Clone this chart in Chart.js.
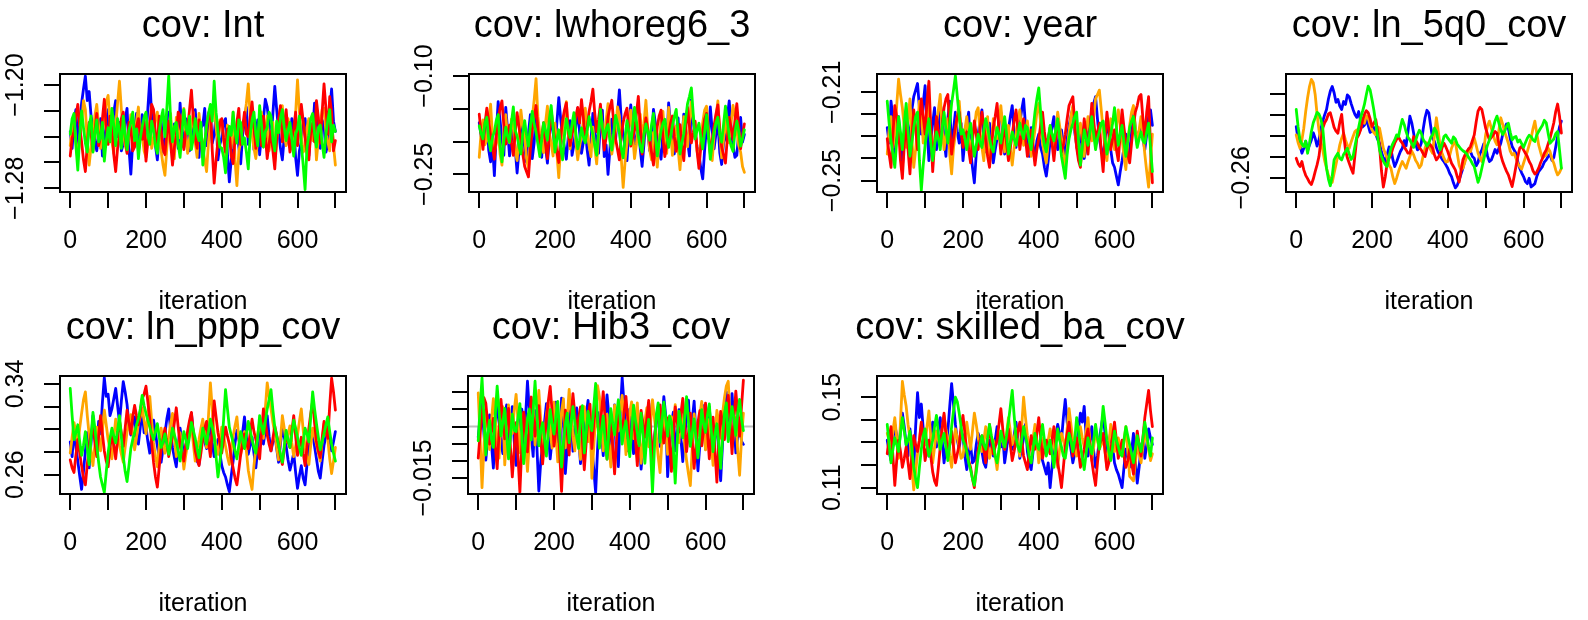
<!DOCTYPE html>
<html>
<head>
<meta charset="utf-8">
<script src="https://cdn.jsdelivr.net/npm/chart.js@4.4.0/dist/chart.umd.min.js"></script>
<style>
  html, body { margin: 0; padding: 0; background: #fff; width: 1588px; height: 620px; overflow: hidden; }
  canvas { position: absolute; }
</style>
</head>
<body>
<script>
// Iterations (one point every 5 draws) and x axis ticks
const iterations = [0,5,10,15,20,25,30,35,40,45,50,55,60,65,70,75,80,85,90,95,
  100,105,110,115,120,125,130,135,140,145,150,155,160,165,170,175,180,185,190,195,
  200,205,210,215,220,225,230,235,240,245,250,255,260,265,270,275,280,285,290,295,
  300,305,310,315,320,325,330,335,340,345,350,355,360,365,370,375,380,385,390,395,
  400,405,410,415,420,425,430,435,440,445,450,455,460,465,470,475,480,485,490,495,
  500,505,510,515,520,525,530,535,540,545,550,555,560,565,570,575,580,585,590,595,
  600,605,610,615,620,625,630,635,640,645,650,655,660,665,670,675,680,685,690,695,700];
const xTicks = [0,100,200,300,400,500,600,700];
const xLabelled = [0,200,400,600];

// cov: Int
const intBlue = [-1.236,-1.249,-1.228,-1.219,-1.247,-1.231,-1.214,-1.203,-1.193,-1.212,-1.205,-1.224,-1.232,-1.243,-1.251,-1.237,-1.226,-1.255,-1.244,-1.231,
  -1.219,-1.242,-1.238,-1.221,-1.212,-1.240,-1.229,-1.251,-1.246,-1.227,-1.218,-1.249,-1.269,-1.244,-1.235,-1.222,-1.252,-1.238,-1.223,-1.247,
  -1.241,-1.218,-1.195,-1.224,-1.233,-1.247,-1.258,-1.239,-1.227,-1.252,-1.245,-1.229,-1.221,-1.242,-1.253,-1.230,-1.236,-1.249,-1.214,-1.237,
  -1.248,-1.226,-1.229,-1.251,-1.243,-1.225,-1.219,-1.240,-1.256,-1.233,-1.231,-1.218,-1.247,-1.236,-1.222,-1.245,-1.238,-1.224,-1.258,-1.246,
  -1.241,-1.229,-1.226,-1.253,-1.275,-1.258,-1.249,-1.236,-1.232,-1.248,-1.261,-1.239,-1.228,-1.217,-1.246,-1.233,-1.222,-1.250,-1.239,-1.227,
  -1.254,-1.238,-1.226,-1.211,-1.217,-1.230,-1.243,-1.222,-1.201,-1.219,-1.235,-1.249,-1.258,-1.240,-1.229,-1.244,-1.248,-1.226,-1.232,-1.256,
  -1.270,-1.251,-1.244,-1.229,-1.226,-1.246,-1.255,-1.234,-1.237,-1.214,-1.219,-1.242,-1.249,-1.227,-1.231,-1.252,-1.246,-1.221,-1.203,-1.228,-1.236];
const intOrange = [-1.247,-1.233,-1.226,-1.244,-1.258,-1.241,-1.231,-1.212,-1.219,-1.243,-1.262,-1.248,-1.238,-1.224,-1.215,-1.232,-1.249,-1.236,-1.227,-1.213,
  -1.208,-1.229,-1.244,-1.253,-1.231,-1.214,-1.197,-1.219,-1.236,-1.247,-1.252,-1.238,-1.223,-1.234,-1.245,-1.228,-1.217,-1.242,-1.239,-1.251,
  -1.256,-1.237,-1.228,-1.249,-1.242,-1.226,-1.221,-1.238,-1.251,-1.262,-1.270,-1.249,-1.234,-1.222,-1.247,-1.257,-1.225,-1.236,-1.241,-1.228,
  -1.218,-1.239,-1.253,-1.241,-1.232,-1.221,-1.245,-1.256,-1.222,-1.236,-1.249,-1.258,-1.267,-1.244,-1.231,-1.219,-1.214,-1.233,-1.246,-1.227,
  -1.229,-1.242,-1.255,-1.231,-1.237,-1.249,-1.221,-1.258,-1.278,-1.252,-1.243,-1.232,-1.226,-1.214,-1.199,-1.224,-1.238,-1.249,-1.257,-1.241,
  -1.233,-1.221,-1.248,-1.236,-1.224,-1.251,-1.241,-1.229,-1.259,-1.244,-1.230,-1.217,-1.216,-1.238,-1.247,-1.226,-1.235,-1.249,-1.252,-1.222,
  -1.196,-1.221,-1.238,-1.252,-1.249,-1.233,-1.226,-1.241,-1.243,-1.229,-1.258,-1.242,-1.231,-1.219,-1.218,-1.236,-1.244,-1.251,-1.228,-1.247,-1.262];
const intRed = [-1.255,-1.241,-1.236,-1.224,-1.215,-1.232,-1.244,-1.258,-1.267,-1.246,-1.229,-1.238,-1.251,-1.236,-1.222,-1.247,-1.240,-1.226,-1.211,-1.233,
  -1.246,-1.224,-1.232,-1.254,-1.267,-1.249,-1.238,-1.226,-1.221,-1.240,-1.253,-1.229,-1.234,-1.251,-1.248,-1.232,-1.226,-1.239,-1.242,-1.228,
  -1.259,-1.243,-1.231,-1.215,-1.219,-1.238,-1.247,-1.224,-1.236,-1.249,-1.254,-1.237,-1.228,-1.245,-1.262,-1.248,-1.239,-1.221,-1.224,-1.241,
  -1.250,-1.236,-1.233,-1.219,-1.204,-1.226,-1.241,-1.249,-1.227,-1.240,-1.256,-1.244,-1.235,-1.222,-1.218,-1.251,-1.276,-1.258,-1.243,-1.229,
  -1.226,-1.241,-1.252,-1.234,-1.237,-1.255,-1.261,-1.242,-1.229,-1.218,-1.246,-1.233,-1.221,-1.238,-1.240,-1.225,-1.213,-1.231,-1.249,-1.236,
  -1.231,-1.247,-1.224,-1.239,-1.257,-1.245,-1.236,-1.251,-1.265,-1.242,-1.227,-1.216,-1.244,-1.232,-1.219,-1.237,-1.252,-1.241,-1.234,-1.221,
  -1.247,-1.231,-1.215,-1.228,-1.241,-1.253,-1.258,-1.236,-1.229,-1.244,-1.212,-1.225,-1.245,-1.221,-1.199,-1.218,-1.238,-1.209,-1.221,-1.251,-1.243];
const intGreen = [-1.238,-1.226,-1.222,-1.247,-1.266,-1.239,-1.220,-1.233,-1.245,-1.252,-1.231,-1.224,-1.252,-1.238,-1.227,-1.244,-1.241,-1.229,-1.259,-1.243,
  -1.233,-1.244,-1.218,-1.231,-1.247,-1.226,-1.236,-1.249,-1.224,-1.238,-1.250,-1.235,-1.229,-1.221,-1.243,-1.234,-1.257,-1.241,-1.232,-1.225,
  -1.221,-1.239,-1.246,-1.228,-1.235,-1.247,-1.253,-1.236,-1.226,-1.219,-1.240,-1.218,-1.193,-1.227,-1.244,-1.232,-1.229,-1.246,-1.256,-1.237,
  -1.219,-1.233,-1.238,-1.224,-1.250,-1.241,-1.226,-1.238,-1.243,-1.229,-1.262,-1.245,-1.231,-1.222,-1.215,-1.228,-1.197,-1.221,-1.236,-1.248,
  -1.249,-1.256,-1.268,-1.244,-1.232,-1.239,-1.221,-1.236,-1.245,-1.227,-1.229,-1.246,-1.241,-1.252,-1.265,-1.239,-1.227,-1.221,-1.238,-1.247,
  -1.216,-1.231,-1.248,-1.236,-1.233,-1.221,-1.224,-1.242,-1.251,-1.228,-1.237,-1.226,-1.219,-1.233,-1.243,-1.235,-1.229,-1.241,-1.255,-1.238,
  -1.234,-1.224,-1.246,-1.262,-1.281,-1.248,-1.239,-1.226,-1.222,-1.237,-1.248,-1.233,-1.231,-1.245,-1.256,-1.238,-1.227,-1.219,-1.244,-1.231,-1.236];
const intTicks = [-1.28,-1.26,-1.24,-1.22,-1.20];
const intLabelled = [-1.20,-1.28];

// cov: lwhoreg6_3
const lwBlue = [-0.171,-0.192,-0.205,-0.176,-0.158,-0.213,-0.231,-0.204,-0.252,-0.187,-0.139,-0.168,-0.196,-0.221,-0.148,-0.183,-0.222,-0.199,-0.178,-0.211,
  -0.248,-0.214,-0.163,-0.186,-0.209,-0.231,-0.187,-0.159,-0.226,-0.202,-0.153,-0.179,-0.198,-0.224,-0.175,-0.207,-0.233,-0.196,-0.161,-0.184,
  -0.214,-0.171,-0.133,-0.165,-0.192,-0.209,-0.227,-0.194,-0.168,-0.221,-0.205,-0.177,-0.149,-0.186,-0.218,-0.201,-0.182,-0.213,-0.236,-0.198,
  -0.157,-0.184,-0.201,-0.218,-0.174,-0.152,-0.223,-0.205,-0.250,-0.212,-0.166,-0.188,-0.197,-0.158,-0.121,-0.167,-0.189,-0.206,-0.229,-0.181,
  -0.144,-0.179,-0.208,-0.192,-0.176,-0.211,-0.238,-0.203,-0.162,-0.185,-0.214,-0.197,-0.151,-0.172,-0.193,-0.216,-0.227,-0.188,-0.172,-0.206,
  -0.141,-0.176,-0.205,-0.219,-0.183,-0.164,-0.231,-0.198,-0.158,-0.181,-0.199,-0.222,-0.136,-0.171,-0.187,-0.208,-0.219,-0.241,-0.257,-0.213,
  -0.178,-0.195,-0.147,-0.183,-0.211,-0.188,-0.169,-0.217,-0.235,-0.202,-0.194,-0.162,-0.138,-0.179,-0.206,-0.224,-0.221,-0.187,-0.163,-0.201,-0.189];
const lwOrange = [-0.224,-0.186,-0.167,-0.205,-0.198,-0.171,-0.143,-0.192,-0.215,-0.203,-0.181,-0.219,-0.236,-0.184,-0.159,-0.197,-0.202,-0.166,-0.177,-0.214,
  -0.229,-0.191,-0.152,-0.178,-0.193,-0.226,-0.241,-0.198,-0.164,-0.137,-0.104,-0.162,-0.188,-0.205,-0.217,-0.172,-0.146,-0.187,-0.203,-0.222,
  -0.172,-0.218,-0.255,-0.207,-0.184,-0.161,-0.139,-0.189,-0.211,-0.182,-0.165,-0.201,-0.228,-0.207,-0.191,-0.168,-0.149,-0.185,-0.206,-0.223,
  -0.178,-0.209,-0.234,-0.192,-0.156,-0.174,-0.197,-0.168,-0.142,-0.188,-0.219,-0.201,-0.185,-0.147,-0.161,-0.226,-0.270,-0.231,-0.203,-0.176,
  -0.152,-0.189,-0.226,-0.204,-0.174,-0.158,-0.199,-0.172,-0.137,-0.181,-0.213,-0.228,-0.186,-0.209,-0.239,-0.197,-0.168,-0.154,-0.195,-0.218,
  -0.148,-0.183,-0.221,-0.196,-0.177,-0.212,-0.243,-0.201,-0.162,-0.189,-0.208,-0.173,-0.139,-0.166,-0.186,-0.214,-0.232,-0.194,-0.171,-0.152,
  -0.146,-0.181,-0.214,-0.229,-0.191,-0.163,-0.138,-0.187,-0.225,-0.197,-0.168,-0.189,-0.202,-0.171,-0.145,-0.162,-0.183,-0.206,-0.216,-0.238,-0.247];
const lwRed = [-0.158,-0.187,-0.212,-0.174,-0.149,-0.168,-0.191,-0.209,-0.227,-0.192,-0.166,-0.149,-0.138,-0.176,-0.204,-0.188,-0.175,-0.201,-0.221,-0.186,
  -0.156,-0.178,-0.197,-0.219,-0.238,-0.246,-0.254,-0.211,-0.182,-0.163,-0.145,-0.181,-0.209,-0.192,-0.171,-0.204,-0.226,-0.188,-0.153,-0.177,
  -0.199,-0.216,-0.232,-0.193,-0.168,-0.152,-0.141,-0.183,-0.206,-0.188,-0.179,-0.161,-0.148,-0.172,-0.136,-0.164,-0.197,-0.178,-0.154,-0.139,
  -0.120,-0.157,-0.185,-0.166,-0.143,-0.181,-0.213,-0.194,-0.162,-0.148,-0.137,-0.171,-0.196,-0.212,-0.228,-0.191,-0.171,-0.158,-0.149,-0.183,
  -0.207,-0.194,-0.183,-0.158,-0.131,-0.176,-0.219,-0.191,-0.164,-0.182,-0.198,-0.217,-0.236,-0.203,-0.177,-0.161,-0.152,-0.194,-0.223,-0.205,
  -0.189,-0.172,-0.161,-0.193,-0.215,-0.196,-0.174,-0.208,-0.229,-0.183,-0.148,-0.176,-0.202,-0.187,-0.169,-0.214,-0.241,-0.208,-0.185,-0.166,
  -0.157,-0.189,-0.219,-0.198,-0.176,-0.158,-0.144,-0.182,-0.208,-0.221,-0.233,-0.194,-0.163,-0.179,-0.197,-0.168,-0.142,-0.176,-0.211,-0.191,-0.173];
const lwGreen = [-0.176,-0.188,-0.196,-0.172,-0.163,-0.197,-0.214,-0.193,-0.185,-0.168,-0.159,-0.206,-0.231,-0.199,-0.178,-0.192,-0.201,-0.171,-0.147,-0.183,
  -0.192,-0.208,-0.219,-0.187,-0.168,-0.191,-0.207,-0.176,-0.154,-0.173,-0.186,-0.204,-0.223,-0.195,-0.171,-0.183,-0.198,-0.166,-0.145,-0.179,
  -0.216,-0.197,-0.182,-0.209,-0.228,-0.192,-0.165,-0.181,-0.194,-0.173,-0.156,-0.187,-0.211,-0.198,-0.179,-0.193,-0.202,-0.183,-0.162,-0.177,
  -0.189,-0.206,-0.221,-0.184,-0.151,-0.178,-0.195,-0.181,-0.174,-0.199,-0.213,-0.186,-0.160,-0.172,-0.187,-0.211,-0.225,-0.194,-0.168,-0.185,
  -0.204,-0.176,-0.148,-0.169,-0.192,-0.207,-0.216,-0.189,-0.173,-0.186,-0.198,-0.174,-0.157,-0.193,-0.222,-0.201,-0.184,-0.172,-0.166,-0.191,
  -0.209,-0.193,-0.176,-0.162,-0.151,-0.187,-0.219,-0.202,-0.188,-0.165,-0.142,-0.131,-0.118,-0.158,-0.196,-0.183,-0.172,-0.193,-0.211,-0.186,
  -0.159,-0.191,-0.227,-0.204,-0.185,-0.171,-0.163,-0.188,-0.201,-0.174,-0.146,-0.168,-0.193,-0.207,-0.215,-0.186,-0.169,-0.184,-0.207,-0.196,-0.182];
const lwTicks = [-0.25,-0.20,-0.15,-0.10];
const lwLabelled = [-0.10,-0.25];

// cov: year
const yrBlue = [-0.226,-0.233,-0.214,-0.222,-0.238,-0.229,-0.221,-0.235,-0.244,-0.231,-0.219,-0.226,-0.233,-0.218,-0.212,-0.209,-0.206,-0.217,-0.229,-0.215,
  -0.207,-0.226,-0.241,-0.232,-0.224,-0.217,-0.236,-0.228,-0.215,-0.221,-0.231,-0.239,-0.222,-0.214,-0.238,-0.227,-0.219,-0.228,-0.233,-0.224,
  -0.241,-0.232,-0.225,-0.219,-0.236,-0.244,-0.251,-0.238,-0.229,-0.223,-0.218,-0.231,-0.237,-0.229,-0.224,-0.235,-0.242,-0.236,-0.231,-0.222,
  -0.219,-0.229,-0.238,-0.231,-0.227,-0.221,-0.216,-0.228,-0.235,-0.226,-0.224,-0.218,-0.213,-0.225,-0.233,-0.239,-0.226,-0.234,-0.241,-0.232,
  -0.229,-0.235,-0.238,-0.244,-0.248,-0.241,-0.232,-0.226,-0.221,-0.229,-0.236,-0.231,-0.227,-0.234,-0.239,-0.231,-0.225,-0.221,-0.217,-0.228,
  -0.234,-0.239,-0.226,-0.233,-0.240,-0.235,-0.229,-0.224,-0.219,-0.215,-0.212,-0.222,-0.231,-0.236,-0.239,-0.231,-0.224,-0.229,-0.236,-0.242,
  -0.244,-0.248,-0.252,-0.246,-0.241,-0.235,-0.229,-0.233,-0.238,-0.227,-0.218,-0.226,-0.232,-0.228,-0.224,-0.231,-0.236,-0.229,-0.221,-0.218,-0.225];
const yrOrange = [-0.238,-0.227,-0.221,-0.235,-0.229,-0.216,-0.204,-0.211,-0.217,-0.226,-0.235,-0.222,-0.213,-0.231,-0.244,-0.236,-0.226,-0.214,-0.218,-0.233,
  -0.232,-0.224,-0.215,-0.228,-0.239,-0.233,-0.224,-0.218,-0.211,-0.227,-0.236,-0.229,-0.222,-0.238,-0.247,-0.235,-0.229,-0.221,-0.214,-0.226,
  -0.233,-0.227,-0.221,-0.231,-0.238,-0.229,-0.226,-0.219,-0.217,-0.228,-0.235,-0.241,-0.228,-0.221,-0.241,-0.234,-0.222,-0.226,-0.231,-0.224,
  -0.216,-0.226,-0.237,-0.231,-0.225,-0.236,-0.243,-0.235,-0.229,-0.222,-0.218,-0.227,-0.234,-0.228,-0.223,-0.231,-0.239,-0.233,-0.227,-0.219,
  -0.215,-0.224,-0.233,-0.238,-0.242,-0.233,-0.226,-0.231,-0.236,-0.227,-0.219,-0.225,-0.231,-0.238,-0.244,-0.236,-0.228,-0.221,-0.216,-0.226,
  -0.235,-0.229,-0.224,-0.232,-0.239,-0.228,-0.221,-0.227,-0.232,-0.221,-0.213,-0.211,-0.209,-0.218,-0.227,-0.236,-0.241,-0.231,-0.222,-0.229,
  -0.236,-0.227,-0.218,-0.224,-0.231,-0.239,-0.245,-0.233,-0.225,-0.219,-0.216,-0.226,-0.234,-0.227,-0.221,-0.229,-0.238,-0.246,-0.253,-0.241,-0.229];
const yrRed = [-0.231,-0.238,-0.244,-0.229,-0.216,-0.221,-0.227,-0.241,-0.249,-0.234,-0.222,-0.236,-0.247,-0.231,-0.218,-0.226,-0.236,-0.224,-0.213,-0.221,
  -0.229,-0.214,-0.205,-0.226,-0.246,-0.233,-0.221,-0.228,-0.234,-0.224,-0.217,-0.213,-0.211,-0.226,-0.238,-0.231,-0.226,-0.221,-0.219,-0.228,
  -0.235,-0.231,-0.228,-0.236,-0.242,-0.232,-0.223,-0.229,-0.236,-0.227,-0.219,-0.225,-0.232,-0.239,-0.244,-0.235,-0.226,-0.221,-0.215,-0.227,
  -0.238,-0.231,-0.224,-0.233,-0.241,-0.235,-0.229,-0.223,-0.218,-0.227,-0.236,-0.229,-0.222,-0.231,-0.239,-0.233,-0.227,-0.235,-0.243,-0.236,
  -0.231,-0.225,-0.219,-0.228,-0.234,-0.231,-0.226,-0.233,-0.241,-0.232,-0.223,-0.229,-0.237,-0.234,-0.229,-0.222,-0.216,-0.214,-0.212,-0.224,
  -0.235,-0.241,-0.244,-0.233,-0.222,-0.229,-0.238,-0.227,-0.215,-0.223,-0.231,-0.228,-0.224,-0.237,-0.246,-0.231,-0.219,-0.227,-0.236,-0.231,
  -0.227,-0.236,-0.241,-0.229,-0.218,-0.226,-0.233,-0.238,-0.242,-0.233,-0.225,-0.219,-0.216,-0.212,-0.211,-0.222,-0.231,-0.219,-0.212,-0.234,-0.251];
const yrGreen = [-0.214,-0.224,-0.232,-0.238,-0.244,-0.232,-0.221,-0.228,-0.236,-0.224,-0.215,-0.227,-0.239,-0.233,-0.226,-0.221,-0.219,-0.241,-0.2545,-0.243,
  -0.234,-0.227,-0.222,-0.233,-0.241,-0.234,-0.228,-0.231,-0.236,-0.226,-0.219,-0.227,-0.233,-0.224,-0.215,-0.209,-0.2025,-0.212,-0.221,-0.229,
  -0.227,-0.231,-0.236,-0.229,-0.224,-0.232,-0.239,-0.234,-0.229,-0.233,-0.235,-0.227,-0.222,-0.226,-0.231,-0.235,-0.237,-0.231,-0.226,-0.229,
  -0.233,-0.227,-0.221,-0.229,-0.238,-0.233,-0.228,-0.231,-0.234,-0.229,-0.224,-0.228,-0.231,-0.225,-0.226,-0.232,-0.236,-0.227,-0.219,-0.213,
  -0.208,-0.219,-0.229,-0.234,-0.237,-0.231,-0.225,-0.229,-0.232,-0.227,-0.222,-0.231,-0.239,-0.244,-0.249,-0.238,-0.231,-0.227,-0.224,-0.221,
  -0.219,-0.232,-0.243,-0.235,-0.227,-0.231,-0.234,-0.228,-0.221,-0.229,-0.236,-0.231,-0.228,-0.224,-0.223,-0.231,-0.238,-0.233,-0.229,-0.224,
  -0.217,-0.226,-0.234,-0.229,-0.225,-0.233,-0.239,-0.232,-0.226,-0.223,-0.221,-0.229,-0.235,-0.231,-0.228,-0.232,-0.233,-0.228,-0.224,-0.235,-0.246];
const yrTicks = [-0.25,-0.24,-0.23,-0.22,-0.21];
const yrLabelled = [-0.21,-0.25];

// cov: ln_5q0_cov
const q5Blue = [-0.2477,-0.2508,-0.2523,-0.2541,-0.2529,-0.2512,-0.2535,-0.2521,-0.2509,-0.2492,-0.2505,-0.2524,-0.2509,-0.2483,-0.2464,-0.2449,-0.2436,-0.2411,-0.2392,-0.2381,
  -0.2396,-0.2419,-0.2412,-0.2428,-0.2436,-0.2417,-0.2424,-0.2401,-0.2406,-0.2422,-0.2436,-0.2448,-0.2455,-0.2441,-0.2464,-0.2478,-0.2474,-0.2461,-0.2474,-0.2491,
  -0.2487,-0.2479,-0.2495,-0.2508,-0.2517,-0.2538,-0.2552,-0.2561,-0.2545,-0.2526,-0.2531,-0.2556,-0.2573,-0.2562,-0.2549,-0.2537,-0.2529,-0.2511,-0.2523,-0.2489,
  -0.2452,-0.2468,-0.2493,-0.2519,-0.2533,-0.2529,-0.2517,-0.2484,-0.2456,-0.2438,-0.2444,-0.2476,-0.2505,-0.2513,-0.2527,-0.2539,-0.2547,-0.2555,-0.2561,-0.2569,
  -0.2577,-0.2589,-0.2597,-0.2612,-0.2624,-0.2618,-0.2606,-0.2591,-0.2577,-0.2558,-0.2543,-0.2531,-0.2537,-0.2549,-0.2553,-0.2571,-0.2563,-0.2542,-0.2533,-0.2519,
  -0.2525,-0.2548,-0.2561,-0.2557,-0.2545,-0.2532,-0.2541,-0.2529,-0.2517,-0.2496,-0.2482,-0.2471,-0.2481,-0.2506,-0.2525,-0.2533,-0.2541,-0.2562,-0.2577,-0.2588,
  -0.2597,-0.2609,-0.2614,-0.2601,-0.2622,-0.2618,-0.2614,-0.2597,-0.2585,-0.2579,-0.2573,-0.2562,-0.2557,-0.2549,-0.2543,-0.2558,-0.2551,-0.2526,-0.2501,-0.2478,-0.2464];
const q5Orange = [-0.2497,-0.2516,-0.2529,-0.2509,-0.2481,-0.2441,-0.2408,-0.2381,-0.2364,-0.2372,-0.2400,-0.2447,-0.2485,-0.2512,-0.2533,-0.2559,-0.2577,-0.2594,-0.2602,-0.2611,
  -0.2589,-0.2568,-0.2545,-0.2521,-0.2505,-0.2493,-0.2509,-0.2522,-0.2529,-0.2514,-0.2501,-0.2489,-0.2485,-0.2496,-0.2481,-0.2462,-0.2469,-0.2451,-0.2456,-0.2473,
  -0.2485,-0.2492,-0.2497,-0.2478,-0.2481,-0.2505,-0.2529,-0.2541,-0.2553,-0.2569,-0.2577,-0.2598,-0.2614,-0.2601,-0.2585,-0.2572,-0.2561,-0.2569,-0.2577,-0.2562,
  -0.2549,-0.2536,-0.2545,-0.2558,-0.2565,-0.2576,-0.2569,-0.2547,-0.2529,-0.2516,-0.2521,-0.2533,-0.2541,-0.2497,-0.2456,-0.2488,-0.2525,-0.2541,-0.2553,-0.2562,
  -0.2561,-0.2547,-0.2529,-0.2518,-0.2513,-0.2541,-0.2569,-0.2581,-0.2577,-0.2563,-0.2549,-0.2531,-0.2537,-0.2521,-0.2505,-0.2522,-0.2541,-0.2553,-0.2561,-0.2534,
  -0.2497,-0.2476,-0.2464,-0.2481,-0.2497,-0.2512,-0.2521,-0.2486,-0.2456,-0.2471,-0.2489,-0.2503,-0.2517,-0.2536,-0.2545,-0.2541,-0.2553,-0.2566,-0.2573,-0.2579,
  -0.2565,-0.2551,-0.2537,-0.2521,-0.2505,-0.2482,-0.2464,-0.2493,-0.2521,-0.2538,-0.2553,-0.2549,-0.2545,-0.2529,-0.2537,-0.2554,-0.2565,-0.2581,-0.2593,-0.2587,-0.2577];
const q5Red = [-0.2553,-0.2566,-0.2573,-0.2561,-0.2581,-0.2594,-0.2602,-0.2611,-0.2616,-0.2603,-0.2585,-0.2569,-0.2549,-0.2512,-0.2481,-0.2468,-0.2460,-0.2447,-0.2444,-0.2461,
  -0.2479,-0.2488,-0.2493,-0.2467,-0.2448,-0.2494,-0.2533,-0.2552,-0.2565,-0.2578,-0.2589,-0.2546,-0.2505,-0.2497,-0.2485,-0.2463,-0.2448,-0.2439,-0.2444,-0.2458,
  -0.2477,-0.2469,-0.2460,-0.2488,-0.2525,-0.2583,-0.2622,-0.2598,-0.2565,-0.2553,-0.2545,-0.2529,-0.2517,-0.2508,-0.2501,-0.2511,-0.2517,-0.2526,-0.2533,-0.2541,
  -0.2541,-0.2522,-0.2501,-0.2509,-0.2517,-0.2528,-0.2533,-0.2542,-0.2549,-0.2531,-0.2517,-0.2522,-0.2529,-0.2545,-0.2557,-0.2551,-0.2543,-0.2528,-0.2517,-0.2526,
  -0.2537,-0.2551,-0.2565,-0.2573,-0.2581,-0.2597,-0.2610,-0.2584,-0.2557,-0.2546,-0.2537,-0.2531,-0.2525,-0.2511,-0.2497,-0.2466,-0.2440,-0.2431,-0.2436,-0.2458,
  -0.2481,-0.2496,-0.2509,-0.2503,-0.2497,-0.2489,-0.2493,-0.2518,-0.2545,-0.2561,-0.2573,-0.2584,-0.2593,-0.2607,-0.2621,-0.2598,-0.2573,-0.2549,-0.2529,-0.2524,
  -0.2533,-0.2541,-0.2549,-0.2561,-0.2569,-0.2583,-0.2591,-0.2586,-0.2577,-0.2564,-0.2553,-0.2541,-0.2533,-0.2519,-0.2505,-0.2487,-0.2468,-0.2441,-0.2423,-0.2452,-0.2493];
const q5Green = [-0.2436,-0.2478,-0.2509,-0.2519,-0.2525,-0.2512,-0.2541,-0.2517,-0.2489,-0.2468,-0.2456,-0.2443,-0.2447,-0.2459,-0.2481,-0.2532,-0.2577,-0.2603,-0.2619,-0.2596,
  -0.2557,-0.2548,-0.2541,-0.2553,-0.2557,-0.2544,-0.2537,-0.2529,-0.2543,-0.2556,-0.2549,-0.2524,-0.2501,-0.2478,-0.2456,-0.2441,-0.2424,-0.2401,-0.2380,-0.2389,
  -0.2412,-0.2438,-0.2469,-0.2502,-0.2533,-0.2549,-0.2560,-0.2568,-0.2573,-0.2551,-0.2529,-0.2518,-0.2509,-0.2497,-0.2501,-0.2479,-0.2460,-0.2472,-0.2489,-0.2503,
  -0.2509,-0.2518,-0.2527,-0.2511,-0.2497,-0.2486,-0.2493,-0.2508,-0.2515,-0.2524,-0.2517,-0.2503,-0.2497,-0.2481,-0.2489,-0.2514,-0.2533,-0.2519,-0.2501,-0.2497,
  -0.2505,-0.2511,-0.2517,-0.2502,-0.2507,-0.2519,-0.2525,-0.2531,-0.2535,-0.2538,-0.2543,-0.2551,-0.2557,-0.2566,-0.2573,-0.2592,-0.2611,-0.2597,-0.2577,-0.2556,
  -0.2537,-0.2521,-0.2509,-0.2494,-0.2481,-0.2463,-0.2452,-0.2469,-0.2485,-0.2496,-0.2489,-0.2477,-0.2469,-0.2491,-0.2509,-0.2503,-0.2501,-0.2514,-0.2509,-0.2518,
  -0.2527,-0.2516,-0.2505,-0.2498,-0.2501,-0.2509,-0.2513,-0.2497,-0.2489,-0.2481,-0.2474,-0.2462,-0.2468,-0.2493,-0.2517,-0.2512,-0.2507,-0.2494,-0.2489,-0.2533,-0.2577];
const q5Ticks = [-0.26,-0.255,-0.25,-0.245,-0.24];
const q5Labelled = [-0.26];

// cov: ln_ppp_cov
const pppBlue = [0.289,0.276,0.301,0.284,0.272,0.259,0.247,0.263,0.281,0.297,0.266,0.288,0.312,0.293,0.278,0.307,0.296,0.324,0.3455,0.329,
  0.331,0.312,0.318,0.327,0.336,0.321,0.306,0.325,0.342,0.333,0.322,0.304,0.295,0.306,0.311,0.293,0.287,0.302,0.316,0.297,
  0.302,0.289,0.279,0.294,0.308,0.297,0.285,0.276,0.271,0.283,0.296,0.309,0.318,0.298,0.284,0.275,0.267,0.286,0.301,0.289,
  0.277,0.286,0.293,0.304,0.314,0.296,0.281,0.272,0.269,0.284,0.298,0.289,0.283,0.295,0.307,0.288,0.276,0.283,0.291,0.279,
  0.268,0.262,0.258,0.251,0.245,0.259,0.272,0.288,0.299,0.291,0.284,0.297,0.311,0.294,0.278,0.286,0.293,0.279,0.266,0.283,
  0.305,0.296,0.287,0.299,0.312,0.294,0.281,0.289,0.296,0.283,0.271,0.287,0.302,0.293,0.285,0.273,0.264,0.271,0.279,0.262,
  0.248,0.259,0.268,0.257,0.251,0.269,0.283,0.291,0.297,0.285,0.274,0.263,0.257,0.272,0.286,0.294,0.302,0.291,0.281,0.289,0.298];
const pppOrange = [0.279,0.293,0.306,0.297,0.286,0.301,0.314,0.326,0.333,0.312,0.295,0.281,0.268,0.286,0.302,0.293,0.281,0.299,0.317,0.304,
  0.291,0.283,0.274,0.292,0.309,0.297,0.286,0.278,0.271,0.284,0.298,0.306,0.313,0.296,0.282,0.293,0.305,0.311,0.319,0.308,
  0.296,0.312,0.329,0.307,0.288,0.276,0.267,0.285,0.301,0.289,0.279,0.286,0.293,0.305,0.314,0.294,0.276,0.284,0.297,0.281,
  0.265,0.277,0.288,0.296,0.304,0.287,0.272,0.283,0.291,0.301,0.309,0.296,0.284,0.312,0.341,0.318,0.296,0.285,0.278,0.291,
  0.302,0.294,0.285,0.276,0.269,0.282,0.294,0.303,0.311,0.292,0.277,0.289,0.298,0.281,0.264,0.255,0.247,0.268,0.283,0.296,
  0.306,0.297,0.292,0.318,0.341,0.329,0.318,0.306,0.297,0.284,0.273,0.291,0.312,0.301,0.289,0.296,0.303,0.288,0.276,0.285,
  0.295,0.307,0.318,0.299,0.284,0.275,0.269,0.286,0.301,0.294,0.287,0.279,0.272,0.289,0.305,0.298,0.291,0.274,0.261,0.272,0.284];
const pppRed = [0.273,0.266,0.262,0.277,0.291,0.279,0.268,0.257,0.251,0.269,0.284,0.296,0.303,0.289,0.276,0.294,0.312,0.296,0.281,0.272,
  0.267,0.283,0.298,0.286,0.274,0.291,0.308,0.297,0.285,0.301,0.317,0.306,0.296,0.311,0.321,0.312,0.304,0.316,0.327,0.331,
  0.338,0.324,0.309,0.288,0.271,0.258,0.249,0.267,0.283,0.292,0.301,0.288,0.276,0.285,0.294,0.306,0.319,0.302,0.286,0.279,
  0.272,0.286,0.299,0.308,0.315,0.297,0.281,0.274,0.268,0.279,0.292,0.301,0.307,0.289,0.276,0.301,0.325,0.311,0.297,0.288,
  0.279,0.291,0.302,0.294,0.287,0.275,0.266,0.257,0.251,0.264,0.278,0.287,0.296,0.288,0.283,0.297,0.309,0.298,0.291,0.282,
  0.274,0.297,0.318,0.306,0.295,0.287,0.281,0.292,0.303,0.295,0.287,0.276,0.269,0.283,0.296,0.289,0.284,0.298,0.312,0.294,
  0.277,0.285,0.293,0.279,0.268,0.284,0.301,0.314,0.325,0.306,0.289,0.281,0.275,0.292,0.307,0.298,0.292,0.321,0.345,0.333,0.317];
const pppGreen = [0.336,0.312,0.291,0.297,0.304,0.289,0.277,0.286,0.298,0.283,0.269,0.293,0.315,0.301,0.286,0.271,0.258,0.251,0.2445,0.262,
  0.279,0.292,0.301,0.294,0.288,0.299,0.312,0.293,0.276,0.263,0.254,0.268,0.283,0.291,0.297,0.304,0.309,0.318,0.330,0.321,
  0.314,0.308,0.302,0.296,0.291,0.298,0.305,0.293,0.284,0.289,0.296,0.287,0.278,0.289,0.301,0.295,0.289,0.281,0.272,0.286,
  0.298,0.291,0.283,0.294,0.306,0.299,0.292,0.283,0.275,0.288,0.301,0.294,0.287,0.298,0.309,0.302,0.294,0.276,0.258,0.271,
  0.285,0.309,0.335,0.318,0.302,0.295,0.289,0.281,0.274,0.286,0.298,0.291,0.283,0.295,0.307,0.299,0.291,0.284,0.279,0.293,
  0.312,0.303,0.296,0.307,0.318,0.326,0.335,0.317,0.302,0.294,0.286,0.278,0.271,0.285,0.299,0.291,0.284,0.296,0.308,0.301,
  0.293,0.284,0.277,0.289,0.301,0.296,0.289,0.311,0.333,0.318,0.305,0.293,0.282,0.289,0.296,0.304,0.311,0.298,0.287,0.279,0.272];
const pppTicks = [0.26,0.28,0.30,0.32,0.34];
const pppLabelled = [0.26,0.34];

// cov: Hib3_cov
const hibBlue = [-0.0031,0.0024,0.0072,-0.0019,-0.0098,-0.0036,0.0034,-0.0052,-0.0121,-0.0014,0.0089,0.0017,-0.0047,-0.0079,0.0021,0.0063,-0.0086,-0.0023,0.0058,-0.0041,
  -0.0113,-0.0048,0.0012,0.0051,-0.0069,0.0028,0.0132,0.0045,-0.0025,-0.0087,0.0046,-0.0062,-0.0188,-0.0104,-0.0052,0.0013,0.0067,-0.0021,-0.0094,-0.0038,
  0.0028,0.0071,-0.0041,-0.0096,0.0083,0.0019,-0.0137,-0.0058,0.0015,0.0062,-0.0072,-0.0018,0.0054,-0.0033,-0.0108,-0.0061,-0.0019,0.0034,0.0076,-0.0027,
  -0.0063,-0.0124,-0.0193,-0.0068,0.0041,-0.0017,-0.0085,0.0022,0.0092,0.0031,-0.0036,-0.0089,0.0063,0.0011,-0.0117,0.0038,0.0143,0.0064,-0.0028,-0.0071,
  0.0051,-0.0013,-0.0079,-0.0024,0.0035,-0.0046,-0.0124,-0.0057,-0.0011,0.0029,0.0068,-0.0018,-0.0093,-0.0041,0.0022,0.0056,-0.0058,0.0014,0.0087,0.0032,
  -0.0146,-0.0063,0.0009,0.0042,-0.0071,-0.0022,0.0049,-0.0036,-0.0102,-0.0028,0.0031,0.0077,-0.0045,0.0019,0.0074,-0.0031,-0.0129,-0.0054,0.0018,0.0061,
  -0.0066,-0.0012,0.0057,-0.0024,-0.0089,-0.0031,0.0026,-0.0083,-0.0158,-0.0049,0.0043,0.0102,-0.0038,0.0021,0.0096,0.0018,-0.0077,-0.0029,0.0014,-0.0043,-0.0052];
const hibOrange = [0.0098,-0.0034,-0.0178,-0.0061,0.0046,0.0011,-0.0067,0.0019,0.0081,0.0023,-0.0039,-0.0092,0.0027,0.0058,-0.0112,-0.0029,0.0063,0.0014,-0.0021,0.0047,
  0.0094,0.0016,-0.0076,-0.0018,0.0038,-0.0049,-0.0131,-0.0043,0.0019,0.0062,-0.0054,0.0027,0.0105,0.0021,-0.0088,-0.0026,0.0032,0.0071,-0.0017,-0.0063,
  0.0071,-0.0024,-0.0103,-0.0037,0.0044,0.0081,-0.0062,0.0023,0.0108,0.0039,-0.0029,-0.0071,0.0015,-0.0038,-0.0096,-0.0012,0.0058,0.0017,-0.0044,0.0026,
  -0.0151,-0.0058,0.0024,0.0119,0.0087,0.0012,-0.0071,-0.0019,0.0036,-0.0047,-0.0118,-0.0021,0.0062,0.0015,-0.0013,0.0048,0.0091,0.0006,-0.0082,-0.0034,
  0.0041,0.0072,-0.0035,0.0019,0.0069,-0.0028,-0.0107,-0.0041,0.0017,0.0054,-0.0059,0.0013,0.0078,0.0026,-0.0024,-0.0087,-0.0134,-0.0039,0.0052,-0.0011,
  -0.0081,-0.0023,0.0029,-0.0018,0.0064,0.0017,-0.0047,0.0041,0.0012,-0.0053,-0.0099,-0.0138,-0.0172,-0.0061,0.0037,-0.0014,-0.0026,0.0031,0.0073,0.0009,
  -0.0068,-0.0017,0.0021,-0.0046,-0.0113,-0.0029,0.0047,0.0012,-0.0034,0.0038,0.0084,0.0118,0.0132,0.0027,-0.0061,-0.0013,0.0026,-0.0071,-0.0142,-0.0036,0.0039];
const hibRed = [-0.0092,-0.0021,0.0037,0.0084,0.0068,0.0009,-0.0051,-0.0014,0.0024,-0.0058,-0.0123,-0.0017,0.0079,0.0021,-0.0036,0.0011,0.0053,-0.0062,-0.0147,-0.0068,
  0.0011,-0.0086,-0.0192,-0.0057,0.0042,-0.0019,-0.0074,0.0013,0.0086,0.0032,-0.0028,0.0026,0.0061,-0.0035,-0.0109,-0.0041,0.0022,0.0074,0.0117,0.0043,
  -0.0057,-0.0012,0.0033,-0.0076,-0.0189,-0.0064,0.0048,-0.0018,-0.0083,0.0021,0.0096,0.0037,-0.0019,0.0024,0.0057,-0.0041,-0.0126,-0.0048,0.0029,0.0065,
  -0.0064,0.0009,0.0071,0.0018,-0.0041,0.0036,0.0102,0.0019,-0.0095,-0.0037,0.0013,-0.0059,-0.0138,-0.0043,0.0054,0.0012,-0.0023,0.0041,0.0088,0.0016,
  -0.0069,-0.0016,0.0035,-0.0039,-0.0114,-0.0028,0.0047,0.0009,-0.0031,0.0022,0.0076,-0.0012,-0.0104,-0.0036,0.0018,0.0043,0.0063,0.0008,-0.0048,-0.0013,
  0.0025,-0.0047,-0.0131,-0.0029,0.0057,0.0014,-0.0016,0.0038,0.0082,0.0007,-0.0073,-0.0019,0.0039,-0.0044,-0.0122,-0.0051,0.0011,0.0046,-0.0056,-0.0011,
  0.0068,-0.0015,-0.0094,-0.0026,0.0027,-0.0071,-0.0162,-0.0048,0.0044,0.0012,-0.0038,0.0029,0.0091,0.0014,-0.0079,0.0019,0.0103,0.0036,-0.0028,0.0057,0.0135];
const hibGreen = [-0.0042,0.0057,0.0142,0.0031,-0.0083,-0.0019,0.0018,-0.0037,-0.0061,0.0034,0.0118,0.0046,-0.0027,0.0014,0.0053,-0.0022,-0.0094,-0.0028,0.0036,-0.0011,
  -0.0015,0.0026,0.0067,-0.0024,-0.0108,-0.0041,0.0024,0.0051,-0.0039,0.0047,0.0132,0.0038,-0.0056,-0.0013,0.0011,-0.0035,-0.0086,-0.0014,0.0049,0.0008,
  -0.0022,0.0029,0.0073,-0.0027,-0.0118,-0.0046,0.0008,0.0039,-0.0047,0.0011,0.0058,0.0012,-0.0031,-0.0064,0.0026,0.0061,-0.0077,-0.0019,0.0044,0.0007,
  -0.0012,0.0058,0.0126,0.0023,-0.0063,-0.0014,0.0031,-0.0038,-0.0095,-0.0016,0.0052,0.0009,-0.0024,0.0031,0.0078,0.0017,-0.0051,-0.0008,0.0016,-0.0037,
  -0.0088,-0.0012,0.0062,0.0018,-0.0019,-0.0056,0.0039,-0.0023,-0.0107,-0.0029,0.0021,-0.0074,-0.0192,-0.0067,0.0034,0.0069,-0.0046,0.0012,0.0071,0.0023,
  -0.0028,0.0031,0.0013,-0.0062,-0.0165,-0.0051,0.0045,0.0006,-0.0033,0.0029,0.0087,0.0014,-0.0058,-0.0017,0.0022,-0.0036,-0.0091,-0.0024,0.0049,0.0011,
  -0.0017,0.0032,0.0066,-0.0009,-0.0073,-0.0021,0.0008,-0.0047,-0.0122,-0.0034,0.0037,0.0069,-0.0044,0.0012,0.0058,0.0024,-0.0026,0.0038,0.0079,0.0021,-0.0012];
const hibTicks = [-0.015,-0.010,-0.005,0,0.005,0.010];
const hibLabelled = [-0.015];

// cov: skilled_ba_cov
const skBlue = [0.131,0.126,0.122,0.131,0.138,0.133,0.126,0.135,0.143,0.137,0.129,0.124,0.136,0.128,0.119,0.137,0.152,0.141,0.147,0.136,
  0.133,0.129,0.124,0.132,0.139,0.134,0.128,0.136,0.141,0.131,0.121,0.128,0.135,0.146,0.156,0.147,0.138,0.131,0.127,0.135,
  0.133,0.124,0.118,0.125,0.129,0.121,0.122,0.129,0.134,0.131,0.126,0.121,0.119,0.126,0.131,0.128,0.124,0.131,0.137,0.129,
  0.128,0.133,0.121,0.127,0.135,0.129,0.127,0.133,0.139,0.131,0.123,0.127,0.132,0.138,0.126,0.121,0.118,0.126,0.134,0.129,
  0.129,0.125,0.122,0.119,0.116,0.121,0.110,0.119,0.127,0.133,0.138,0.134,0.131,0.141,0.149,0.139,0.133,0.127,0.121,0.125,
  0.128,0.136,0.143,0.139,0.146,0.133,0.124,0.131,0.137,0.126,0.119,0.124,0.131,0.137,0.142,0.134,0.126,0.129,0.135,0.128,
  0.121,0.118,0.116,0.113,0.110,0.119,0.127,0.124,0.119,0.126,0.134,0.122,0.112,0.119,0.128,0.131,0.123,0.129,0.136,0.132,0.129];
const skOrange = [0.134,0.131,0.127,0.135,0.141,0.132,0.123,0.139,0.157,0.151,0.146,0.138,0.132,0.119,0.109,0.117,0.125,0.131,0.138,0.132,
  0.129,0.137,0.144,0.132,0.121,0.128,0.135,0.131,0.127,0.136,0.142,0.136,0.131,0.124,0.119,0.128,0.136,0.132,0.128,0.123,
  0.124,0.131,0.139,0.133,0.127,0.135,0.143,0.138,0.132,0.128,0.126,0.131,0.137,0.129,0.123,0.127,0.131,0.124,0.118,0.126,
  0.134,0.131,0.127,0.134,0.141,0.135,0.129,0.132,0.136,0.129,0.124,0.137,0.150,0.141,0.133,0.129,0.127,0.132,0.138,0.131,
  0.121,0.126,0.132,0.128,0.125,0.131,0.136,0.132,0.129,0.124,0.119,0.127,0.134,0.131,0.127,0.136,0.145,0.138,0.131,0.126,
  0.124,0.131,0.137,0.132,0.128,0.135,0.141,0.131,0.122,0.128,0.135,0.131,0.127,0.129,0.133,0.126,0.119,0.128,0.138,0.132,
  0.126,0.129,0.132,0.128,0.124,0.131,0.137,0.126,0.115,0.114,0.113,0.121,0.129,0.125,0.121,0.128,0.135,0.131,0.127,0.122,0.125];
const skRed = [0.125,0.132,0.137,0.124,0.111,0.122,0.131,0.126,0.119,0.123,0.128,0.121,0.114,0.124,0.133,0.129,0.126,0.131,0.139,0.132,
  0.122,0.127,0.131,0.124,0.117,0.113,0.111,0.119,0.128,0.136,0.143,0.133,0.124,0.129,0.135,0.128,0.121,0.125,0.129,0.137,
  0.142,0.134,0.126,0.122,0.119,0.114,0.110,0.119,0.127,0.131,0.133,0.127,0.121,0.129,0.138,0.131,0.125,0.128,0.131,0.138,
  0.145,0.136,0.127,0.131,0.136,0.129,0.122,0.126,0.131,0.135,0.139,0.131,0.124,0.121,0.118,0.126,0.133,0.129,0.127,0.134,
  0.141,0.132,0.123,0.127,0.131,0.128,0.125,0.131,0.137,0.129,0.121,0.116,0.110,0.119,0.128,0.134,0.139,0.131,0.124,0.129,
  0.132,0.126,0.119,0.123,0.127,0.132,0.136,0.129,0.122,0.116,0.111,0.121,0.129,0.131,0.134,0.126,0.118,0.121,0.126,0.133,
  0.139,0.131,0.123,0.127,0.131,0.124,0.119,0.122,0.127,0.121,0.116,0.126,0.135,0.129,0.124,0.132,0.141,0.147,0.153,0.144,0.137];
const skGreen = [0.138,0.129,0.121,0.127,0.132,0.129,0.126,0.134,0.141,0.135,0.129,0.131,0.135,0.127,0.119,0.114,0.110,0.119,0.127,0.133,
  0.136,0.129,0.124,0.127,0.131,0.137,0.142,0.134,0.127,0.131,0.134,0.128,0.122,0.129,0.137,0.144,0.150,0.148,0.143,0.137,
  0.131,0.129,0.126,0.121,0.118,0.114,0.111,0.117,0.124,0.129,0.133,0.129,0.127,0.132,0.138,0.133,0.129,0.124,0.121,0.127,
  0.135,0.131,0.128,0.133,0.139,0.146,0.153,0.142,0.132,0.128,0.126,0.131,0.137,0.133,0.129,0.124,0.121,0.127,0.134,0.129,
  0.127,0.132,0.138,0.131,0.124,0.128,0.131,0.125,0.119,0.127,0.136,0.131,0.128,0.124,0.123,0.129,0.134,0.131,0.126,0.131,
  0.141,0.135,0.129,0.123,0.118,0.125,0.132,0.128,0.125,0.131,0.138,0.132,0.127,0.136,0.146,0.139,0.131,0.126,0.122,0.128,
  0.135,0.131,0.128,0.125,0.124,0.131,0.137,0.133,0.129,0.125,0.121,0.127,0.133,0.129,0.126,0.132,0.139,0.134,0.128,0.124,0.132];
const skTicks = [0.11,0.12,0.13,0.14,0.15];
const skLabelled = [0.11,0.15];

// Panels, in plotting order
const titles = ['cov: Int', 'cov: lwhoreg6_3', 'cov: year', 'cov: ln_5q0_cov',
  'cov: ln_ppp_cov', 'cov: Hib3_cov', 'cov: skilled_ba_cov'];
const chains = [
  [intBlue, intOrange, intRed, intGreen],
  [lwBlue, lwOrange, lwRed, lwGreen],
  [yrBlue, yrOrange, yrRed, yrGreen],
  [q5Blue, q5Orange, q5Red, q5Green],
  [pppBlue, pppOrange, pppRed, pppGreen],
  [hibBlue, hibOrange, hibRed, hibGreen],
  [skBlue, skOrange, skRed, skGreen]
];
const yLimits = [[-1.2829, -1.1914], [-0.2770, -0.0969], [-0.2552, -0.2017], [-0.2634, -0.2351],
  [0.2430, 0.3470], [-0.01967, 0.01473], [0.1072, 0.1594]];
const yTicks = [intTicks, lwTicks, yrTicks, q5Ticks, pppTicks, hibTicks, skTicks];
const yLabelled = [intLabelled, lwLabelled, yrLabelled, q5Labelled, pppLabelled, hibLabelled, skLabelled];
const yDecimals = [2, 2, 2, 2, 2, 3, 2];
const refLine = 0;

// Layout / styling
const canvasPos = [[0, 0], [409, 0], [817, 0], [1226, 0], [0, 302], [408, 302], [817, 302]];
const chainColors = ['#0000ff', '#ffa500', '#ff0000', '#00ff00'];
const chainOrder = [3, 2, 1, 0];   // green on top
const FONT = '"Liberation Sans", Arial, Helvetica, sans-serif';
const CW = 386, CH = 320;

function fmt(v, dec) {
    return v.toFixed(dec).replace('-', '\u2212');
}

function makeDecor(i) {
    return {
        id: 'decor' + i,
        beforeDatasetsDraw(chart) {
            const { ctx, chartArea: a, scales: { y } } = chart;
            if (refLine >= y.min && refLine <= y.max) {
                const py = y.getPixelForValue(refLine);
                ctx.save();
                ctx.strokeStyle = '#bebebe';
                ctx.lineWidth = 2;
                ctx.beginPath();
                ctx.moveTo(a.left, py);
                ctx.lineTo(a.right, py);
                ctx.stroke();
                ctx.restore();
            }
        },
        afterDraw(chart) {
            const { ctx, chartArea: a, scales: { x, y } } = chart;
            const cx = (a.left + a.right) / 2;
            ctx.save();
            // box
            ctx.strokeStyle = '#000';
            ctx.lineWidth = 2;
            ctx.strokeRect(a.left, a.top, a.right - a.left, a.bottom - a.top);
            // tick labels
            ctx.fillStyle = '#000';
            ctx.font = '25px ' + FONT;
            ctx.textAlign = 'center';
            ctx.textBaseline = 'alphabetic';
            xLabelled.forEach(v => ctx.fillText(String(v), x.getPixelForValue(v), a.bottom + 56));
            ctx.fillText('iteration', cx, a.bottom + 117);
            yLabelled[i].forEach(v => {
                ctx.save();
                ctx.translate(a.left - 37, y.getPixelForValue(v));
                ctx.rotate(-Math.PI / 2);
                ctx.fillText(fmt(v, yDecimals[i]), 0, 0);
                ctx.restore();
            });
            // title
            ctx.font = '38px ' + FONT;
            ctx.fillText(titles[i], cx, a.top - 37);
            ctx.restore();
        }
    };
}

chains.forEach((set, i) => {
    const cv = document.createElement('canvas');
    cv.width = CW;
    cv.height = CH;
    cv.style.left = canvasPos[i][0] + 'px';
    cv.style.top = canvasPos[i][1] + 'px';
    document.body.appendChild(cv);

    const tickGrid = { drawOnChartArea: false, drawTicks: true, tickLength: 16, lineWidth: 2, color: '#000' };

    new Chart(cv, {
        type: 'line',
        data: {
            labels: iterations,
            datasets: set.map((d, k) => ({
                data: d,
                borderColor: chainColors[k],
                borderWidth: 2.8,
                order: chainOrder[k],
                pointRadius: 0,
                tension: 0,
                fill: false,
                borderJoinStyle: 'round',
                borderCapStyle: 'round'
            }))
        },
        options: {
            responsive: false,
            animation: false,
            devicePixelRatio: 1,
            events: [],
            layout: { padding: { left: 0, top: 74, right: 40, bottom: 0 } },
            plugins: {
                legend: { display: false },
                tooltip: { enabled: false },
                title: { display: false }
            },
            scales: {
                x: {
                    type: 'linear',
                    min: -27,
                    max: 728,
                    afterBuildTicks: s => { s.ticks = xTicks.map(v => ({ value: v })); },
                    afterFit: s => { s.height = 128; },
                    ticks: { display: false },
                    border: { display: false },
                    grid: tickGrid
                },
                y: {
                    type: 'linear',
                    min: yLimits[i][0],
                    max: yLimits[i][1],
                    afterBuildTicks: s => { s.ticks = yTicks[i].map(v => ({ value: v })); },
                    afterFit: s => { s.width = 60; },
                    ticks: { display: false },
                    border: { display: false },
                    grid: tickGrid
                }
            }
        },
        plugins: [makeDecor(i)]
    });
});
</script>
</body>
</html>
